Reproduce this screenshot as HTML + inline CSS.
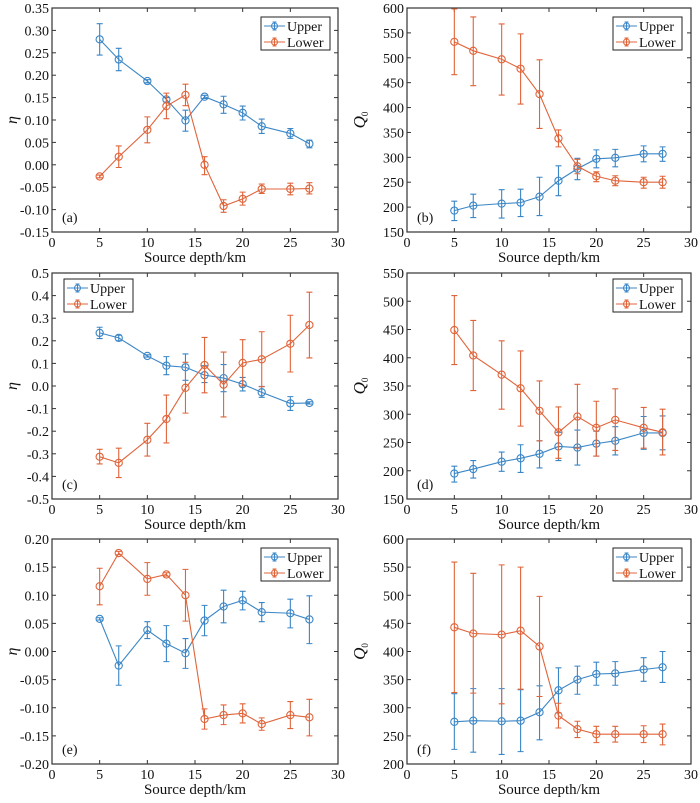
<!DOCTYPE html>
<html><head><meta charset="utf-8">
<style>
html,body{margin:0;padding:0;background:#fff;}
svg, svg text{font-family:"Liberation Serif","DejaVu Serif",serif;}
</style></head>
<body>
<svg id="fig" width="700" height="798" viewBox="0 0 700 798" xmlns="http://www.w3.org/2000/svg"></svg>
<script>
const depths = [5,7,10,12,14,16,18,20,22,25,27];
const xTicks = [0,5,10,15,20,25,30];

const aUpper = [0.28,0.235,0.187,0.146,0.099,0.152,0.135,0.116,0.086,0.07,0.047];
const aUpperLo = [0.245,0.21,0.183,0.14,0.075,0.148,0.115,0.1,0.07,0.059,0.038];
const aUpperHi = [0.315,0.26,0.19,0.15,0.122,0.155,0.153,0.131,0.102,0.081,0.055];
const aLower = [-0.026,0.018,0.078,0.131,0.156,0.0,-0.092,-0.076,-0.054,-0.054,-0.053];
const aLowerLo = [-0.029,-0.006,0.049,0.103,0.132,-0.022,-0.106,-0.09,-0.064,-0.067,-0.065];
const aLowerHi = [-0.023,0.042,0.107,0.16,0.18,0.018,-0.078,-0.061,-0.043,-0.041,-0.04];
const aTicks = [-0.15,-0.10,-0.05,0,0.05,0.10,0.15,0.20,0.25,0.30,0.35];

const bUpper = [193,203,207,209,221,253,277,297,299,307,307];
const bUpperLo = [173,179,178,181,183,223,255,279,281,291,292];
const bUpperHi = [212,226,235,236,260,283,298,315,316,323,321];
const bLower = [532,514,497,478,427,338,282,262,253,250,250];
const bLowerLo = [466,444,425,407,358,321,267,251,243,238,238];
const bLowerHi = [598,582,568,548,496,355,296,271,263,260,262];
const bTicks = [150,200,250,300,350,400,450,500,550,600];

const cUpper = [0.235,0.213,0.133,0.09,0.083,0.048,0.035,0.008,-0.028,-0.077,-0.075];
const cUpperLo = [0.21,0.2,0.128,0.05,0.025,0.015,-0.025,-0.022,-0.05,-0.108,-0.08];
const cUpperHi = [0.26,0.225,0.138,0.13,0.142,0.09,0.095,0.038,-0.002,-0.047,-0.07];
const cLower = [-0.313,-0.34,-0.238,-0.146,-0.008,0.093,0.006,0.102,0.118,0.187,0.27];
const cLowerLo = [-0.345,-0.405,-0.31,-0.252,-0.12,-0.03,-0.137,0.0,-0.003,0.062,0.124];
const cLowerHi = [-0.28,-0.275,-0.165,-0.04,0.105,0.215,0.15,0.205,0.24,0.313,0.415];
const cTicks = [-0.5,-0.4,-0.3,-0.2,-0.1,0,0.1,0.2,0.3,0.4,0.5];

const dUpper = [195,203,216,222,230,243,241,248,253,267,267];
const dUpperLo = [180,187,199,197,205,218,210,226,228,238,237];
const dUpperHi = [208,218,233,246,253,268,272,270,278,296,297];
const dLower = [449,404,370,346,306,268,296,276,290,276,268];
const dLowerLo = [388,342,309,279,253,222,240,226,236,240,228];
const dLowerHi = [510,466,430,412,359,313,353,323,345,312,309];
const dTicks = [150,200,250,300,350,400,450,500,550];

const eUpper = [0.058,-0.025,0.038,0.014,-0.003,0.055,0.08,0.091,0.07,0.068,0.057];
const eUpperLo = [0.056,-0.06,0.023,-0.018,-0.03,0.028,0.051,0.074,0.053,0.042,0.014];
const eUpperHi = [0.06,0.01,0.053,0.046,0.023,0.082,0.109,0.107,0.087,0.093,0.099];
const eLower = [0.116,0.175,0.129,0.137,0.1,-0.12,-0.113,-0.11,-0.129,-0.113,-0.117];
const eLowerLo = [0.083,0.172,0.1,0.134,0.054,-0.138,-0.13,-0.127,-0.14,-0.137,-0.15];
const eLowerHi = [0.148,0.178,0.158,0.14,0.146,-0.102,-0.095,-0.093,-0.118,-0.089,-0.085];
const eTicks = [-0.20,-0.15,-0.10,-0.05,0,0.05,0.10,0.15,0.20];

const fUpper = [275,277,276,277,292,331,350,360,361,368,372];
const fUpperLo = [226,221,217,222,243,291,324,340,340,347,345];
const fUpperHi = [325,334,334,332,339,371,374,381,382,389,400];
const fLower = [443,432,430,437,409,286,262,253,253,253,253];
const fLowerLo = [327,326,307,333,320,264,247,238,239,238,234];
const fLowerHi = [559,539,554,550,498,308,276,267,267,268,271];
const fTicks = [200,250,300,350,400,450,500,550,600];

const BLUE = '#3b86c6', ORANGE = '#e0643a';
const NS = 'http://www.w3.org/2000/svg';
const svg = document.getElementById('fig');
function mk(tag, attrs, parent, text){
  const e = document.createElementNS(NS, tag);
  for (const k in attrs) e.setAttribute(k, attrs[k]);
  if (tag === 'text') e.setAttribute('font-family', 'Liberation Serif, DejaVu Serif, serif');
  if (text !== undefined) e.textContent = text;
  (parent||svg).appendChild(e);
  return e;
}

function panel(id, L, R, T, B, yTicks, dec, up, upLo, upHi, lo, loLo, loHi, ylabelQ, legend){
  const g = mk('g', {});
  
  
  const y0 = yTicks[0], y1 = yTicks[yTicks.length-1];
  const xs = v => L + (v - 0) / 30 * (R - L);
  const ys = v => B - (v - y0) / (y1 - y0) * (B - T);
  xTicks.forEach(t => {
    const x = xs(t);
    mk('line', {x1:x, x2:x, y1:B, y2:B-4, stroke:'#333', 'stroke-width':1}, g);
    mk('line', {x1:x, x2:x, y1:T, y2:T+4, stroke:'#333', 'stroke-width':1}, g);
    const tl = mk('text', {x:x, y:B+15, 'text-anchor':'middle', 'font-size':14, fill:'#111'}, g, String(t));
    
    
  });
  yTicks.forEach(t => {
    const y = ys(t);
    mk('line', {x1:L, x2:L+4, y1:y, y2:y, stroke:'#333', 'stroke-width':1}, g);
    mk('line', {x1:R, x2:R-4, y1:y, y2:y, stroke:'#333', 'stroke-width':1}, g);
    const tl = mk('text', {x:L-3, y:y+5, 'text-anchor':'end', 'font-size':14, fill:'#111'}, g, t.toFixed(dec));
    
    
  });
  mk('rect', {x:L, y:T, width:R-L, height:B-T, fill:'none', stroke:'#333', 'stroke-width':1.2}, g);
  function series(vals, lows, highs, color, name){
    const sg = mk('g', {}, g);
    
    
    const pts = vals.map((v,i) => xs(depths[i]) + ',' + ys(v)).join(' ');
    mk('polyline', {points:pts, fill:'none', stroke:color, 'stroke-width':1.1}, sg);
    vals.forEach((v,i) => {
      const x = xs(depths[i]);
      const eb = mk('path', {d:`M${x},${ys(lows[i])}V${ys(highs[i])}M${x-3},${ys(lows[i])}H${x+3}M${x-3},${ys(highs[i])}H${x+3}`, stroke:color, 'stroke-width':1.1, fill:'none'}, sg);
      
      
      const c = mk('circle', {cx:x, cy:ys(v), r:3.6, fill:'none', stroke:color, 'stroke-width':1.1}, sg);
      
      
    });
  }
  series(up, upLo, upHi, BLUE, 'upper');
  series(lo, loLo, loHi, ORANGE, 'lower');
  const xt = mk('text', {x:(L+R)/2, y:B+30, 'text-anchor':'middle', 'font-size':15, fill:'#111'}, g, 'Source depth/km');
  
  
  const yx = L - 40, yy = (T+B)/2;
  let yt;
  if (ylabelQ) {
    yt = mk('text', {x:yx-2, y:yy, 'text-anchor':'middle', 'font-size':17, 'font-style':'italic', fill:'#111', transform:`rotate(-90 ${yx-2} ${yy})`}, g);
    mk('tspan', {}, yt, 'Q');
    mk('tspan', {'font-size':9, dy:3, 'font-style':'normal'}, yt, '0');
  } else {
    yt = mk('text', {x:yx+5, y:yy, 'text-anchor':'middle', 'font-size':16, 'font-style':'italic', fill:'#111', transform:`rotate(-90 ${yx+5} ${yy})`}, g, 'η');
  }
  
  
  const pl = mk('text', {x:L+10, y:B-10, 'font-size':14, fill:'#111'}, g, '(' + id + ')');
  
  
  const lg = mk('g', {}, g);
  
  
  const [lx, ly] = legend;
  mk('rect', {x:lx, y:ly, width:69, height:33, fill:'#fff', stroke:'#222', 'stroke-width':1}, lg);
  [['Upper', BLUE], ['Lower', ORANGE]].forEach((e, i) => {
    const cy = ly + 9 + i*16;
    const le = mk('g', {}, lg);
    
    
    mk('line', {x1:lx+3, x2:lx+24, y1:cy, y2:cy, stroke:e[1], 'stroke-width':1.1}, le);
    mk('circle', {cx:lx+13.5, cy:cy, r:3, fill:'none', stroke:e[1], 'stroke-width':1}, le);
    mk('path', {d:`M${lx+13.5},${cy-4}V${cy+4}M${lx+11.5},${cy-4}H${lx+15.5}M${lx+11.5},${cy+4}H${lx+15.5}`, stroke:e[1], 'stroke-width':1, fill:'none'}, le);
    mk('text', {x:lx+26, y:cy+5, 'font-size':14, fill:'#111'}, le, e[0]);
  });
}

panel('a', 52, 338, 8, 232, aTicks, 2, aUpper, aUpperLo, aUpperHi, aLower, aLowerLo, aLowerHi, false, [261, 17]);
panel('b', 407, 691, 8, 232, bTicks, 0, bUpper, bUpperLo, bUpperHi, bLower, bLowerLo, bLowerHi, true, [613, 17]);
panel('c', 52, 338, 273, 499, cTicks, 1, cUpper, cUpperLo, cUpperHi, cLower, cLowerLo, cLowerHi, false, [64, 279]);
panel('d', 407, 691, 273, 499, dTicks, 0, dUpper, dUpperLo, dUpperHi, dLower, dLowerLo, dLowerHi, true, [613, 279]);
panel('e', 52, 338, 539, 764, eTicks, 2, eUpper, eUpperLo, eUpperHi, eLower, eLowerLo, eLowerHi, false, [261, 548]);
panel('f', 407, 691, 539, 764, fTicks, 0, fUpper, fUpperLo, fUpperHi, fLower, fLowerLo, fLowerHi, true, [613, 548]);
</script>
</body></html>
